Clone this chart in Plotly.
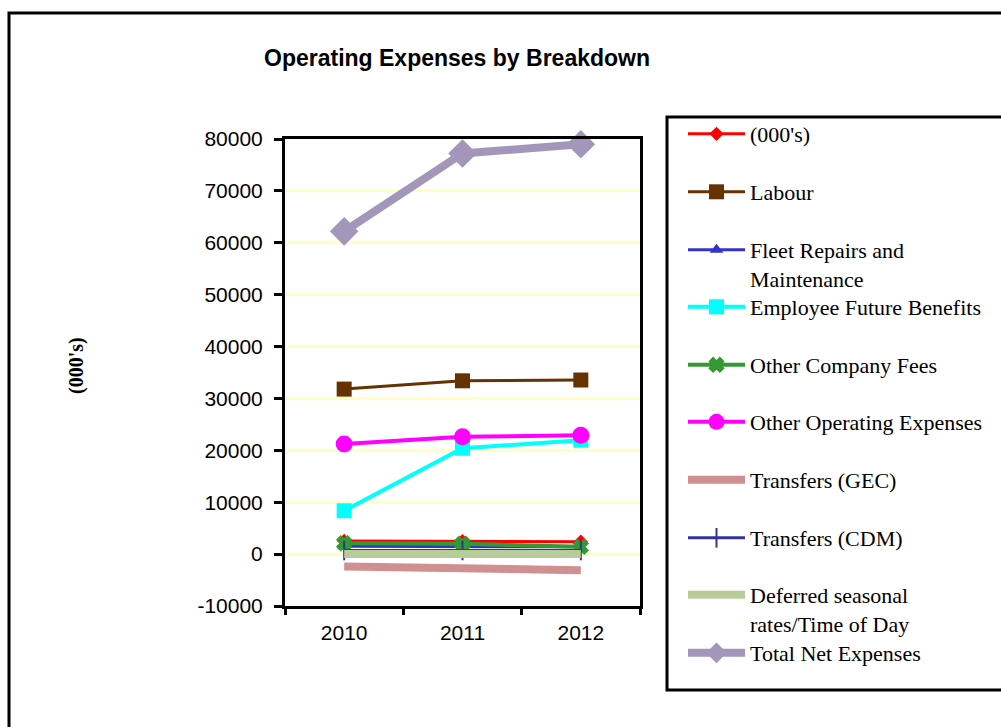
import plotly.graph_objects as go

years = ["2010", "2011", "2012"]

names = [
    "(000's)",
    "Labour",
    "Fleet Repairs and<br>Maintenance",
    "Employee Future Benefits",
    "Other Company Fees",
    "Other Operating Expenses",
    "Transfers (GEC)",
    "Transfers (CDM)",
    "Deferred seasonal<br>rates/Time of Day",
    "Total Net Expenses",
]

thousands = [2550, 2500, 2400]
labour = [31800, 33400, 33550]
fleet = [1500, 1500, 1400]
employee = [8350, 20400, 21950]
other_fees = [2100, 2000, 1400]
other_opex = [21200, 22600, 22900]
gec = [-2400, -2600, -3100]
cdm = [700, 700, 700]
deferred = [0, 0, 0]
total = [62200, 77200, 79000]

y_tick_vals = [-10000, 0, 10000, 20000, 30000, 40000, 50000, 60000, 70000, 80000]
y_tick_text = ["-10000", "0", "10000", "20000", "30000", "40000", "50000", "60000", "70000", "80000"]

values = [thousands, labour, fleet, employee, other_fees, other_opex, gec, cdm, deferred, total]

styles = [
    dict(color="#FF0000", width=3, symbol="diamond", size=11, mode="lines+markers"),
    dict(color="#663300", width=3, symbol="square", size=15, mode="lines+markers"),
    dict(color="#3333CC", width=3, symbol="triangle-up", size=12, mode="lines+markers"),
    dict(color="#00FFFF", width=4, symbol="square", size=15, mode="lines+markers"),
    dict(color="#339933", width=4, symbol="x", size=12, mode="lines+markers"),
    dict(color="#FF00FF", width=4, symbol="circle", size=17, mode="lines+markers"),
    dict(color="#D09090", width=8, symbol="circle", size=1, mode="lines"),
    dict(color="#333399", width=3, symbol="line-ns", size=14, mode="lines+markers"),
    dict(color="#B8CC99", width=8, symbol="circle", size=1, mode="lines"),
    dict(color="#A396BA", width=8, symbol="diamond", size=22, mode="lines+markers"),
]

W, H = 1001, 727


def px_x(p):
    return p / W


def px_y(p):
    return 1 - p / H


legend_rows = [135, 193, 251, 308, 366, 423, 481, 539, 596, 654]

fig = go.Figure()
for i, (nm, vals, st) in enumerate(zip(names, values, styles)):
    lg = "legend" if i == 0 else f"legend{i + 1}"
    marker = dict(symbol=st["symbol"], size=st["size"], color=st["color"])
    if st["symbol"] in ("x", "line-ns"):
        marker["line"] = dict(color=st["color"], width=2)
    fig.add_trace(go.Scatter(
        x=years, y=vals, name=nm, mode=st["mode"],
        line=dict(color=st["color"], width=st["width"]),
        marker=marker, legend=lg, cliponaxis=False,
    ))

layout_legends = {}
for i, row in enumerate(legend_rows):
    lg = "legend" if i == 0 else f"legend{i + 1}"
    layout_legends[lg] = dict(
        x=px_x(683), y=px_y(row - 22), xanchor="left", yanchor="top",
        xref="paper", yref="paper",
        bgcolor="rgba(0,0,0,0)", borderwidth=0,
        font=dict(family="Liberation Serif", size=22, color="black"),
        itemwidth=57, valign="top",
    )

fig.update_layout(
    width=W, height=H,
    margin=dict(l=0, r=0, t=0, b=0, autoexpand=False),
    paper_bgcolor="white", plot_bgcolor="white",
    showlegend=True,
    **layout_legends,
    xaxis=dict(
        domain=[px_x(285), px_x(640)], type="category",
        categoryorder="array", categoryarray=years, range=[-0.5, 2.5],
        showline=True, mirror=True, linecolor="black", linewidth=3,
        ticks="outside", tickson="boundaries", ticklen=6, tickwidth=3, tickcolor="black",
        showgrid=False, zeroline=False, automargin=False, ticklabelstandoff=6,
        tickfont=dict(family="Liberation Sans", size=21, color="black"),
    ),
    yaxis=dict(
        domain=[px_y(606), px_y(139)], range=[-10000, 80000],
        tickmode="array", tickvals=y_tick_vals, ticktext=y_tick_text,
        showline=True, mirror=True, linecolor="black", linewidth=3,
        ticks="outside", ticklen=8, tickwidth=3, tickcolor="black",
        showgrid=True, gridcolor="#FFFFC0", gridwidth=3, zeroline=False,
        automargin=False, ticklabelstandoff=7,
        tickfont=dict(family="Liberation Sans", size=21, color="black"),
    ),
    annotations=[
        dict(text="<b>Operating Expenses by Breakdown</b>", x=px_x(457), y=px_y(58),
             xref="paper", yref="paper", showarrow=False, xanchor="center", yanchor="middle",
             font=dict(family="Liberation Sans", size=23, color="black")),
        dict(text="<b>(000's)</b>", x=px_x(76), y=px_y(366), textangle=-90,
             xref="paper", yref="paper", showarrow=False, xanchor="center", yanchor="middle",
             font=dict(family="Liberation Serif", size=20, color="black")),
    ],
    shapes=[
        dict(type="rect", xref="paper", yref="paper", x0=px_x(9), y0=px_y(13), x1=1.05, y1=-0.05,
             line=dict(color="black", width=3), layer="below"),
        dict(type="rect", xref="paper", yref="paper", x0=px_x(667), y0=px_y(117), x1=1.05, y1=px_y(690),
             line=dict(color="black", width=3), fillcolor="white", layer="below"),
    ],
)

fig.write_html("out.html")
